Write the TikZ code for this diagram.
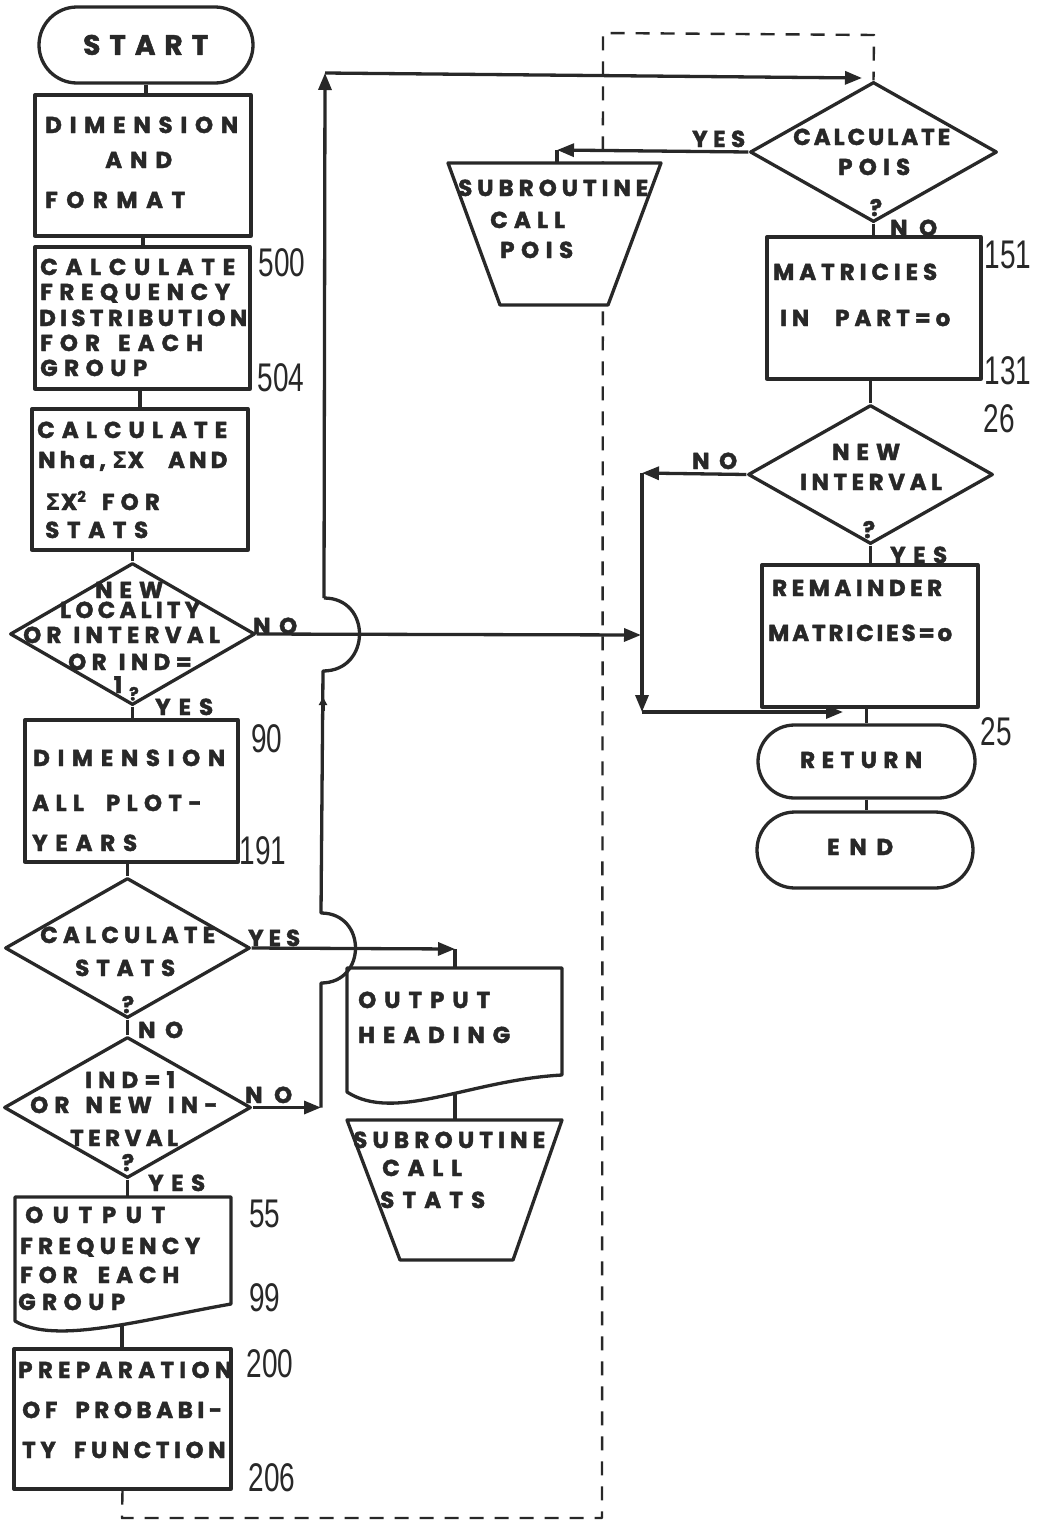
\documentclass[tikz,border=0pt]{standalone}
\usepackage{fontspec}
\usetikzlibrary{arrows.meta,shapes.geometric,shapes.misc}
\newfontfamily\fut{Poppins}[BoldFeatures={FakeBold=1.8}]
\newfontfamily\sig{DejaVu Sans}
\newfontfamily\numf{Liberation Sans}[FakeStretch=0.7]
\definecolor{ink}{RGB}{40,40,40}
\newlength\natw
\def\fsz{23}
\newcommand\fitto[3]{\settowidth\natw{#3}\pgfmathsetmacro\lsp{max(-10,min(90,((#1)-\natw)/((#2)-1)/\fsz*100))}{\addfontfeature{LetterSpace=\lsp}#3}}
\newcommand\sgm{{\sig\bfseries Σ}}
\newcommand\wg[1]{\hspace{#1pt}}
\begin{document}
\begin{tikzpicture}[x=1pt,y=-1pt,line join=round,
 ln/.style={draw=ink,line width=3.3pt},
 arr/.style={ln,-{Triangle[length=17pt,width=13pt]}},
 dsh/.style={draw=ink,line width=2.4pt,dash pattern=on 14pt off 11pt},
 box/.style={ln,rectangle,inner sep=0pt},
 term/.style={ln,rounded rectangle,inner sep=0pt},
 dia/.style={ln,diamond,inner sep=0pt},
 tx/.style={font=\fut\bfseries\fontsize{23}{23}\selectfont,text=ink,inner sep=0pt,anchor=west,text height=16pt,text depth=0pt},
 q/.style={font=\fut\bfseries\fontsize{23}{23}\selectfont,text=ink,inner sep=0pt,anchor=center,text height=16pt,text depth=0pt},
 nm/.style={font=\numf\fontsize{40}{40}\selectfont,text=ink,inner sep=0pt,anchor=center,text height=28.6pt,text depth=0pt}]
\fill[white] (0,0) rectangle (1037,1526);
\useasboundingbox (0,0) rectangle (1037,1526);

% ---------- left column shapes ----------
\node[term,minimum width=214pt,minimum height=76pt] (start) at (146,45) {};
\node[box,minimum width=216pt,minimum height=141pt] (dim) at (143,165.5) {};
\node[box,minimum width=215pt,minimum height=142pt] (freq) at (142.5,318) {};
\node[box,minimum width=216pt,minimum height=141pt] (nha) at (140,479.5) {};
\node[dia,minimum width=245pt,minimum height=142pt] (loc) at (132.5,634) {};
\node[box,minimum width=213pt,minimum height=142pt] (dall) at (131.5,791) {};
\node[dia,minimum width=245pt,minimum height=140pt] (cs) at (127.5,948) {};
\node[dia,minimum width=247pt,minimum height=141pt] (ind) at (127.5,1107.5) {};
\draw[ln] (15,1321) -- (15,1197) -- (231,1197) -- (231,1304) .. controls (140,1320) and (55,1345) .. (15,1321) -- cycle;
\coordinate (of-t) at (127.5,1197);
\coordinate (of-b) at (122,1325);
\node[box,minimum width=217pt,minimum height=140pt] (prep) at (122.5,1419) {};

% ---------- middle shapes ----------
\draw[ln] (347,1092) -- (347,968) -- (562,968) -- (562,1075) .. controls (470,1080) and (395,1123) .. (347,1092) -- cycle;
\coordinate (oh-t) at (455,968);
\coordinate (oh-b) at (455,1094);
\draw[ln] (347,1120) -- (562,1120) -- (513,1260) -- (400,1260) -- cycle;
\coordinate (ss-t) at (455,1120);
\coordinate (sp-t) at (557,163);

% ---------- right column shapes ----------
\node[dia,minimum width=247pt,minimum height=140pt] (cp) at (873.5,152) {};
\node[box,minimum width=214pt,minimum height=142pt] (ma) at (874,308) {};
\node[dia,minimum width=245pt,minimum height=139pt] (ni) at (870.5,474.5) {};
\node[box,minimum width=216pt,minimum height=142pt] (re) at (870,636) {};
\node[term,minimum width=217pt,minimum height=73pt] (ret) at (866.5,761.5) {};
\node[term,minimum width=216pt,minimum height=76pt] (stop) at (865,850) {};

% ---------- connectors ----------
\draw[ln] (start.south) -- (start.south |- dim.north);
\draw[ln] (dim.south) -- (dim.south |- freq.north);
\draw[ln] (nha.north |- freq.south) -- (nha.north);
\draw[ln] (nha.south -| loc.north) -- (loc.north);
\draw[ln] (loc.south) -- (loc.south |- dall.north);
\draw[ln] (dall.south -| cs.north) -- (cs.north);
\draw[ln] (cs.south) -- (ind.north);
\draw[ln] (ind.south) -- (of-t);
\draw[ln] (of-b) -- (of-b |- prep.north);
\coordinate (d1) at (122,1518);
\coordinate (d2) at (602,1518);
\coordinate (d3) at (603,33);
\coordinate (d4) at (874,35);
\draw[dsh] (prep.south) -- (d1) -- (d2) -- (d3) -- (d4) -- (cp.north);

\coordinate (csy) at (455,949);
\draw[arr] (cs.east) -- (csy);
\draw[ln] (csy) -- (oh-t);
\draw[ln] (oh-b) -- (ss-t);

\coordinate (vb) at (321,1107.5);
\coordinate (j2b) at (321,983);
\coordinate (j2t) at (321,913);
\coordinate (j1b) at (323,671);
\coordinate (j1t) at (324,598);
\coordinate (tl) at (325,73);
\coordinate (tr) at (862,78);
\draw[arr] (ind.east) -- (vb);
\draw[ln] (vb) -- (j2b) .. controls +(46,0) and +(46,0) .. (j2t) -- (j1b) .. controls +(48,0) and +(48,0) .. (j1t);
\draw[arr] (j1t) -- (tl);
\draw[arr] (tl) -- (tr);
\coordinate (mk1) at (323,711);
\coordinate (mk2) at (323,697);
\draw[ln,-{Triangle[length=8pt,width=8pt]}] (mk1) -- (mk2);

\coordinate (lnE) at (641,635);
\draw[arr] (loc.east) -- (lnE);
\coordinate (nw) at (642,473);
\coordinate (sw) at (642,712);
\coordinate (se) at (843,712);
\draw[arr] (ni.west) -- (nw);
\draw[arr] (nw) -- (sw);
\draw[arr] (sw) -- (se);

\coordinate (cpy) at (557,150);
\draw[arr] (cp.west) -- (cpy);
\draw[ln] (cpy) -- (sp-t);
\draw[ln] (cp.south) -- (cp.south |- ma.north);
\draw[ln] (ma.south -| ni.north) -- (ni.north);
\draw[ln] (ni.south) -- (ni.south |- re.north);
\draw[ln] (re.south -| ret.north) -- (ret.north);
\draw[ln] (ret.south) -- (ret.south |- stop.north);

% subroutine POIS (opaque, hides the dashed line)
\draw[ln,fill=white] (448,163) -- (661,163) -- (608,305) -- (500,305) -- cycle;

% ---------- texts ----------
\node[tx,text height=19.6pt] (t-start) at (83,45) {\def\fsz{28}\fontsize{28}{28}\selectfont\fitto{125}{5}{START}};
\node[tx] (t-dim1) at (45,125) {\fitto{193}{9}{DIMENSION}};
\node[tx] (t-dim2) at (105,160) {\fitto{67}{3}{AND}};
\node[tx] (t-dim3) at (45,200) {\fitto{140}{6}{FORMAT}};
\node[tx] (t-fr1) at (40,267) {\fitto{195}{9}{CALCULATE}};
\node[tx] (t-fr2) at (40,292) {\fitto{190}{9}{FREQUENCY}};
\node[tx] (t-fr3) at (39,318) {\fitto{208}{12}{DISTRIBUTION}};
\node[tx] (t-fr4) at (40,343) {\fitto{170}{7}{FOR\wg{18}EACH}};
\node[tx] (t-fr5) at (40,368) {\fitto{107}{5}{GROUP}};
\node[tx] (t-nh1) at (37,430) {\fitto{190}{9}{CALCULATE}};
\node[tx] (t-nh2) at (38,460) {\fitto{202}{9}{Nha,\wg{6}\sgm X\wg{24}AND}};
\node[tx] (t-nh3) at (45,502) {\fitto{127}{5}{\sgm X\raisebox{8pt}{\fontsize{15}{15}\selectfont 2}\wg{16}FOR}};
\node[tx] (t-nh4) at (45,530) {\fitto{103}{5}{STATS}};
\node[tx] (t-lo1) at (95,590) {\fitto{68}{3}{NEW}};
\node[tx] (t-lo2) at (60,610) {\fitto{140}{8}{LOCALITY}};
\node[tx] (t-lo3) at (23,635) {\fitto{202}{10}{OR\wg{12}INTERVAL}};
\node[tx] (t-lo4) at (68,662) {\fitto{129}{6}{OR\wg{12}IND=}};
\node[q] (t-lo5) at (118,685) {1};
\node[q,font=\fut\bfseries\fontsize{18}{18}\selectfont,text height=12.6pt] (q-lo) at (134,694) {?};
\node[tx] (t-da1) at (33,758) {\fitto{192}{9}{DIMENSION}};
\node[tx] (t-da2) at (32,803) {\fitto{176}{8}{ALL\wg{22}PLOT-}};
\node[tx] (t-da3) at (32,843) {\fitto{105}{5}{YEARS}};
\node[tx] (t-cs1) at (40,935) {\fitto{175}{9}{CALCULATE}};
\node[tx] (t-cs2) at (75,968) {\fitto{100}{5}{STATS}};
\node[q] (q-cs) at (128,1005) {?};
\node[tx] (t-in1) at (85,1080) {\fitto{90}{5}{IND=1}};
\node[tx] (t-in2) at (30,1105) {\fitto{200}{8}{OR\wg{16}NEW\wg{16}IN-}};
\node[tx] (t-in3) at (70,1138) {\fitto{108}{6}{TERVAL}};
\node[q] (q-in) at (128,1163) {?};
\node[tx] (t-of1) at (25,1215) {\fitto{140}{6}{OUTPUT}};
\node[tx] (t-of2) at (20,1246) {\fitto{180}{9}{FREQUENCY}};
\node[tx] (t-of3) at (20,1275) {\fitto{165}{7}{FOR\wg{20}EACH}};
\node[tx] (t-of4) at (18,1302) {\fitto{107}{5}{GROUP}};
\node[tx] (t-pr1) at (18,1370) {\fitto{214}{11}{PREPARATION}};
\node[tx] (t-pr2) at (22,1410) {\fitto{200}{9}{OF\wg{18}PROBABI-}};
\node[tx] (t-pr3) at (22,1450) {\fitto{208}{10}{TY\wg{18}FUNCTION}};
\node[tx] (t-oh1) at (358,1000) {\fitto{132}{6}{OUTPUT}};
\node[tx] (t-oh2) at (358,1035) {\fitto{152}{7}{HEADING}};
\node[tx] (t-ss1) at (353,1140) {\fitto{192}{10}{SUBROUTINE}};
\node[tx] (t-ss2) at (382,1168) {\fitto{80}{4}{CALL}};
\node[tx] (t-ss3) at (380,1200) {\fitto{105}{5}{STATS}};
\node[tx] (t-sp1) at (458,188) {\fitto{190}{10}{SUBROUTINE}};
\node[tx] (t-sp2) at (490,220) {\fitto{75}{4}{CALL}};
\node[tx] (t-sp3) at (500,250) {\fitto{73}{4}{POIS}};
\node[tx] (t-cp1) at (793,137) {\fitto{157}{9}{CALCULATE}};
\node[tx] (t-cp2) at (838,167) {\fitto{72}{4}{POIS}};
\node[q] (q-cp) at (876,208) {?};
\node[tx] (t-ma1) at (773,272) {\fitto{164}{9}{MATRICIES}};
\node[tx] (t-ma2) at (780,318) {\fitto{175}{8}{IN\wg{26}PART=o}};
\node[tx] (t-ni1) at (832,452) {\fitto{68}{3}{NEW}};
\node[tx] (t-ni2) at (800,482) {\fitto{142}{8}{INTERVAL}};
\node[q] (q-ni) at (869,530) {?};
\node[tx] (t-re1) at (772,588) {\fitto{170}{9}{REMAINDER}};
\node[tx] (t-re2) at (768,633) {\fitto{184}{11}{MATRICIES=o}};
\node[tx] (t-ret) at (800,760) {\fitto{122}{6}{RETURN}};
\node[tx] (t-end) at (827,847) {\fitto{66}{3}{END}};

% ---------- yes / no ----------
\node[tx] (l-lono) at (253,626) {\fitto{44}{2}{NO}};
\node[tx] (l-loyes) at (155,707) {\fitto{58}{3}{YES}};
\node[tx] (l-csyes) at (248,938) {\fitto{52}{3}{YES}};
\node[tx] (l-csno) at (138,1030) {\fitto{45}{2}{NO}};
\node[tx] (l-inno) at (245,1095) {\fitto{47}{2}{NO}};
\node[tx] (l-inyes) at (148,1183) {\fitto{57}{3}{YES}};
\node[tx] (l-cpyes) at (692,139) {\fitto{53}{3}{YES}};
\node[tx] (l-cpno) at (890,228) {\fitto{47}{2}{NO}};
\node[tx] (l-nino) at (692,461) {\fitto{45}{2}{NO}};
\node[tx] (l-niyes) at (890,555) {\fitto{57}{3}{YES}};

% ---------- statement numbers ----------
\node[nm] (n500) at (282,262) {500};
\node[nm] (n504) at (281,377) {504};
\node[nm] (n90) at (267,738) {90};
\node[nm] (n191) at (263,850) {191};
\node[nm] (n55) at (265,1213) {55};
\node[nm] (n99) at (265,1297) {99};
\node[nm] (n200) at (270,1363) {200};
\node[nm] (n206) at (272,1477) {206};
\node[nm] (n151) at (1008,254) {151};
\node[nm] (n131) at (1008,370) {131};
\node[nm] (n26) at (999,418) {26};
\node[nm] (n25) at (996,731) {25};
\end{tikzpicture}
\end{document}
